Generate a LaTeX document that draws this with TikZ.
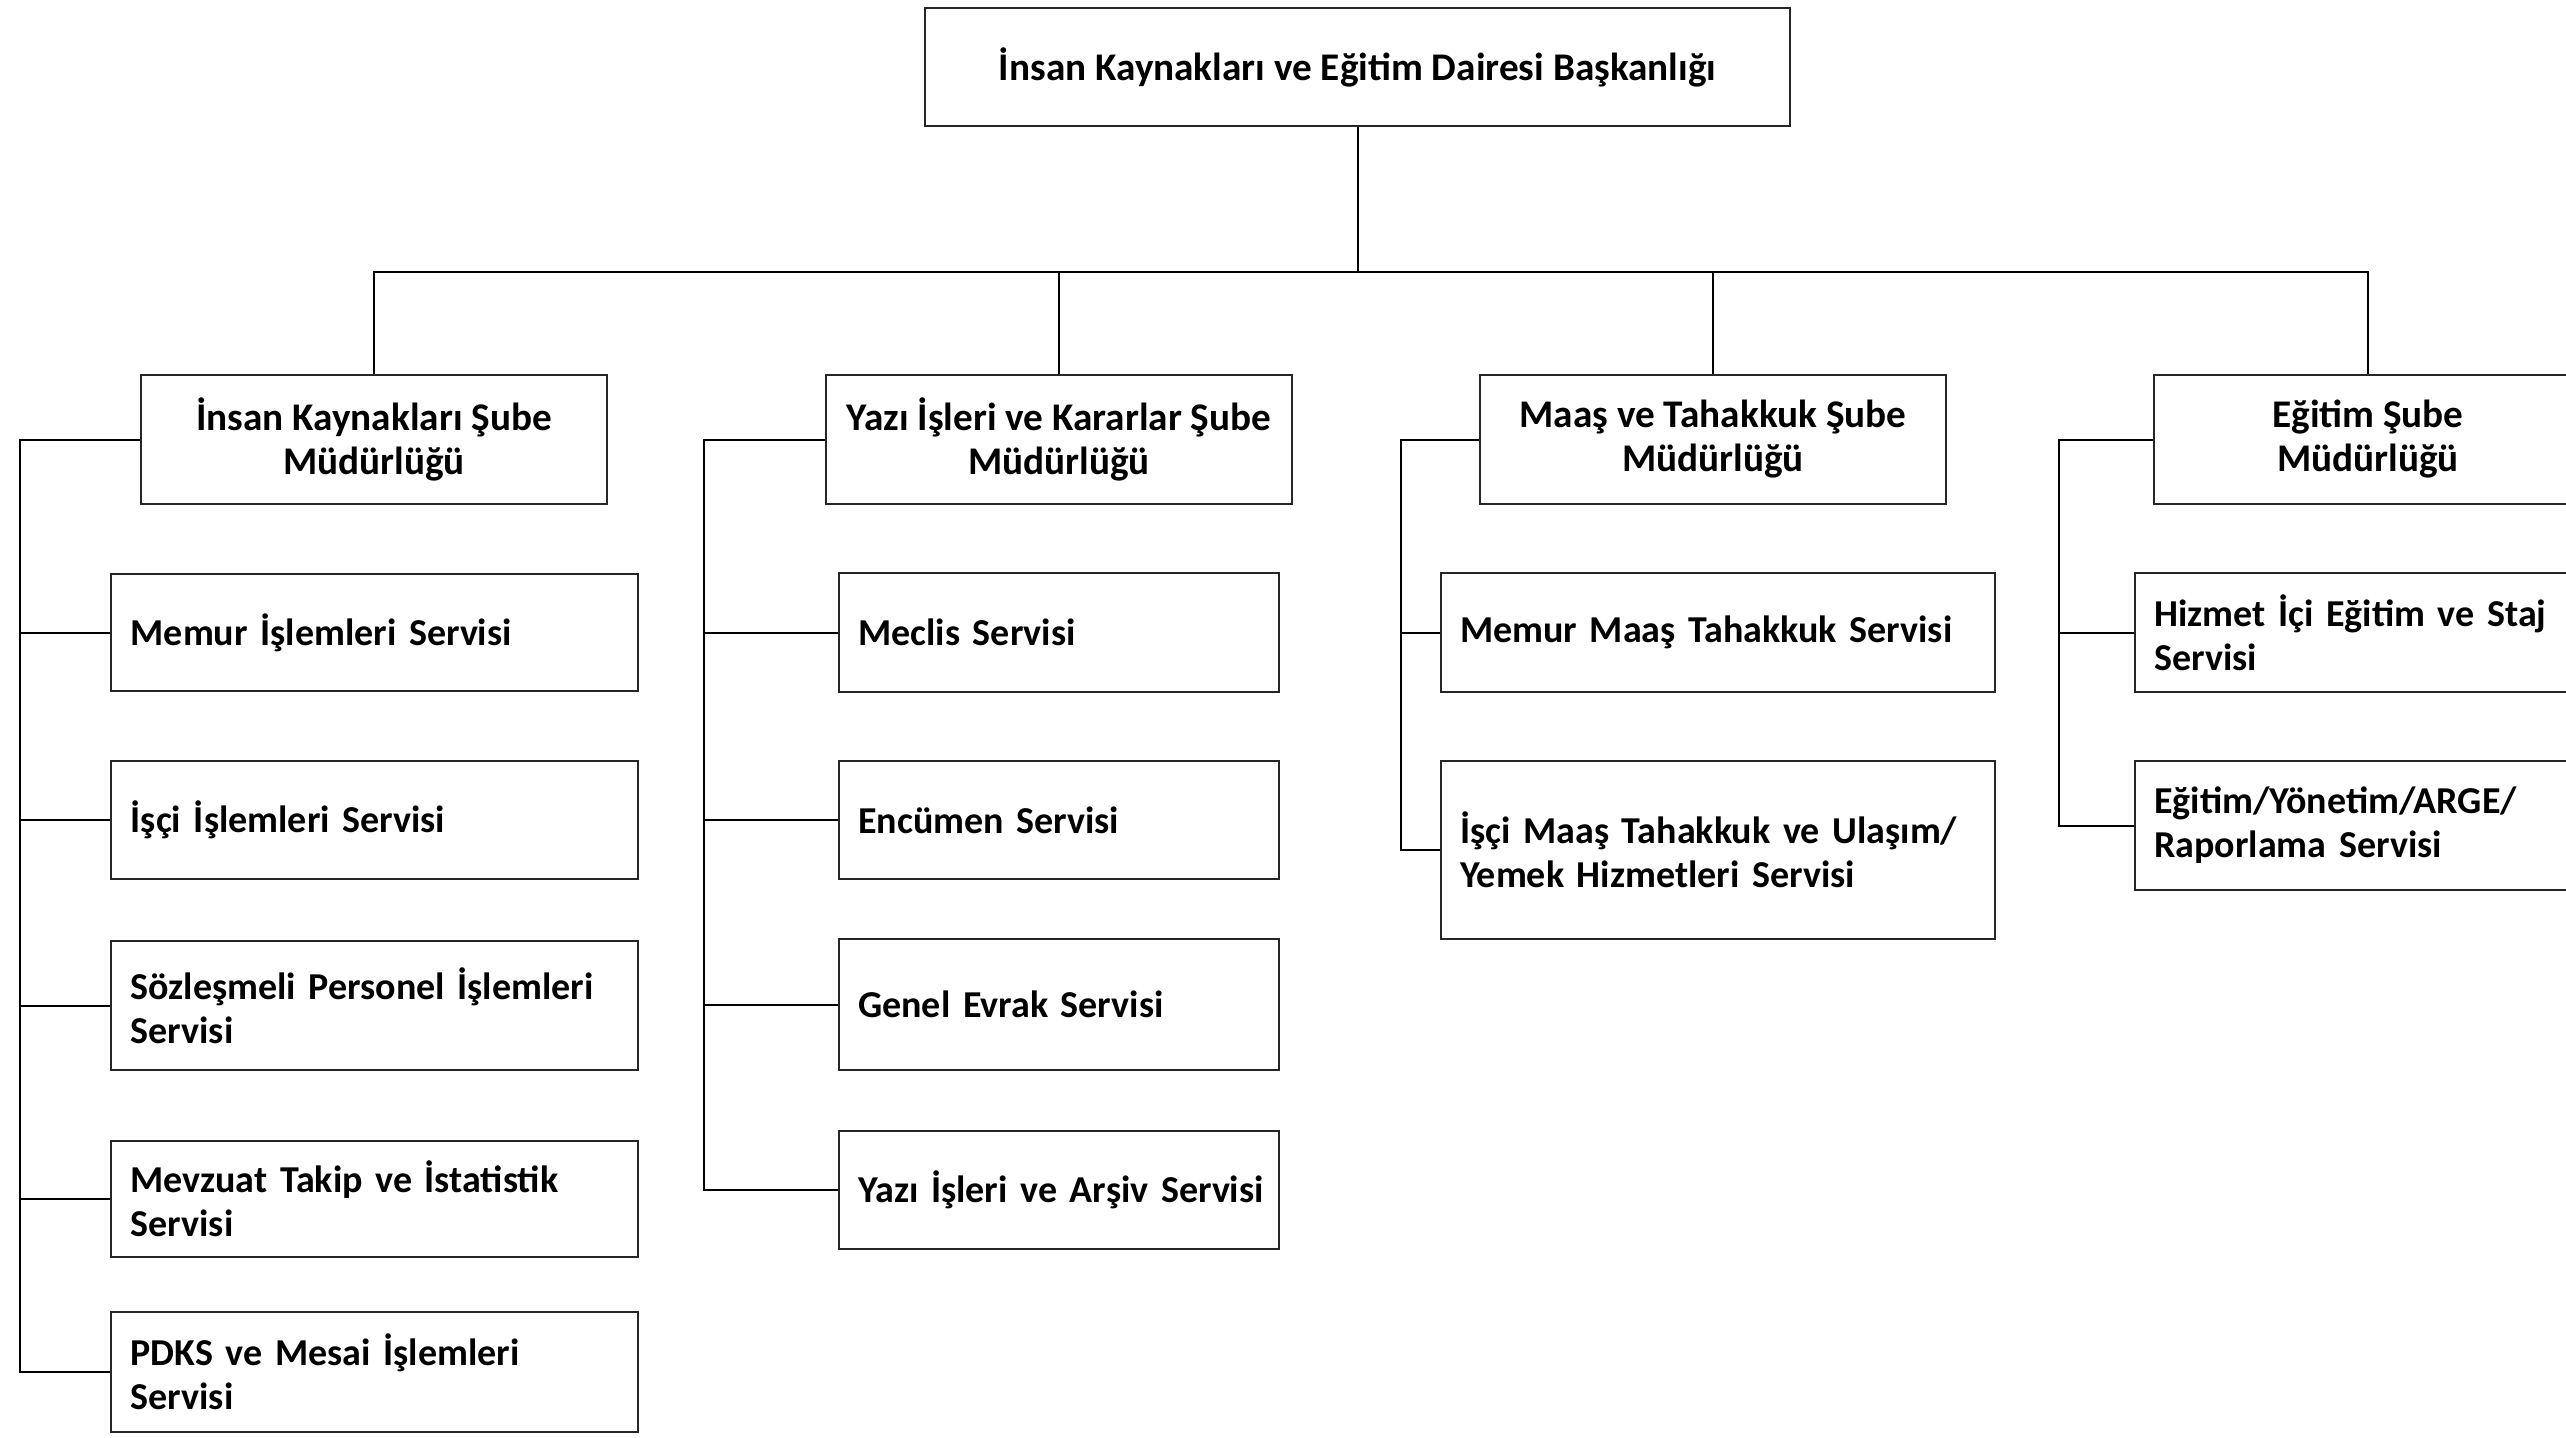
\documentclass[tikz,border=0pt]{standalone}
\usepackage{fontspec}
\setmainfont{Carlito}
\begin{document}
\begin{tikzpicture}[x=0.5pt,y=-0.5pt,
  every node/.style={font=\bfseries\fontsize{19}{22}\selectfont},
  box/.style={draw=black!85,line width=1.2pt,rectangle,inner sep=0pt},
  head/.style={box,align=center,minimum width=233pt,minimum height=64.5pt,font=\bfseries\fontsize{19.6}{22}\selectfont},
  sv/.style={box,align=left,anchor=west,inner xsep=9.5pt,minimum height=#1},
  conn/.style={line width=1pt,black}]
\useasboundingbox (0,0) rectangle (2566,1437);
\clip (0,0) rectangle (2566,1437);
\fill[white] (0,0) rectangle (2566,1437);
% top
\node[box,align=center,minimum width=432.5pt,minimum height=59pt,font=\bfseries\fontsize{19.6}{22}\selectfont] (top) at (1357.5,67) {İnsan Kaynakları ve Eğitim Dairesi Başkanlığı};
% branches
\node[head] (b1) at (374,439.5) {İnsan Kaynakları Şube\\Müdürlüğü};
\node[head] (b2) at (1059,439.5) {Yazı İşleri ve Kararlar Şube\\Müdürlüğü};
\node[head] (b3) at (1713,439.5) {Maaş ve Tahakkuk Şube\\Müdürlüğü};
\node[head,minimum width=214pt] (b4) at (2368,439.5) {Eğitim Şube\\Müdürlüğü};
% column 1
\begin{scope}[every node/.append style={text width=244pt,minimum width=263.5pt}]
\node[sv=58.5pt] (c11) at (110,632.5) {Memur İşlemleri Servisi};
\node[sv=59pt] (c12) at (110,820) {İşçi İşlemleri Servisi};
\node[sv=64.5pt] (c13) at (110,1005.5) {Sözleşmeli Personel İşlemleri\\Servisi};
\node[sv=58pt] (c14) at (110,1199) {Mevzuat Takip ve İstatistik\\Servisi};
\node[sv=60pt] (c15) at (110,1372) {PDKS ve Mesai İşlemleri\\Servisi};
\end{scope}
% column 2
\begin{scope}[every node/.append style={text width=201pt,minimum width=220pt,inner xsep=9pt}]
\node[sv=59.5pt] (c21) at (838,632.5) {Meclis Servisi};
\node[sv=59pt] (c22) at (838,820) {Encümen Servisi};
\node[sv=65.5pt] (c23) at (838,1004.5) {Genel Evrak Servisi};
\node[sv=59pt] (c24) at (838,1190) {\mbox{Yazı İşleri ve Arşiv Servisi}};
\end{scope}
% column 3
\begin{scope}[every node/.append style={text width=258pt,minimum width=276pt,inner xsep=9pt}]
\node[sv=59.5pt] (c31) at (1440,632.5) {Memur Maaş Tahakkuk Servisi};
\node[sv=89pt] (c32) at (1440,850) {İşçi Maaş Tahakkuk ve Ulaşım/\\Yemek Hizmetleri Servisi};
\end{scope}
% column 4
\begin{scope}[every node/.append style={text width=258pt,minimum width=276pt,inner xsep=9pt}]
\node[sv=59.5pt] (c41) at (2134,632.5) {Hizmet İçi Eğitim ve Staj\\Servisi};
\node[sv=64.5pt] (c42) at (2134,825.5) {Eğitim/Yönetim/ARGE/\\Raporlama Servisi};
\end{scope}
% bus
\coordinate (bus) at (1357.5,272);
\draw[conn] (top.south) -- (bus);
\draw[conn] (b1.north) |- (bus) -| (b4.north);
\draw[conn] (b2.north) -- (b2.north |- bus);
\draw[conn] (b3.north) -- (b3.north |- bus);
% trunks
\draw[conn] (b1.west) -| (20,0 |- c15.west) -- (c15.west);
\foreach \n in {c11,c12,c13,c14} \draw[conn] (20,0 |- \n.west) -- (\n.west);
\draw[conn] (b2.west) -| (704,0 |- c24.west) -- (c24.west);
\foreach \n in {c21,c22,c23} \draw[conn] (704,0 |- \n.west) -- (\n.west);
\draw[conn] (b3.west) -| (1401,0 |- c32.west) -- (c32.west);
\draw[conn] (1401,0 |- c31.west) -- (c31.west);
\draw[conn] (b4.west) -| (2059,0 |- c42.west) -- (c42.west);
\draw[conn] (2059,0 |- c41.west) -- (c41.west);
\end{tikzpicture}
\end{document}
